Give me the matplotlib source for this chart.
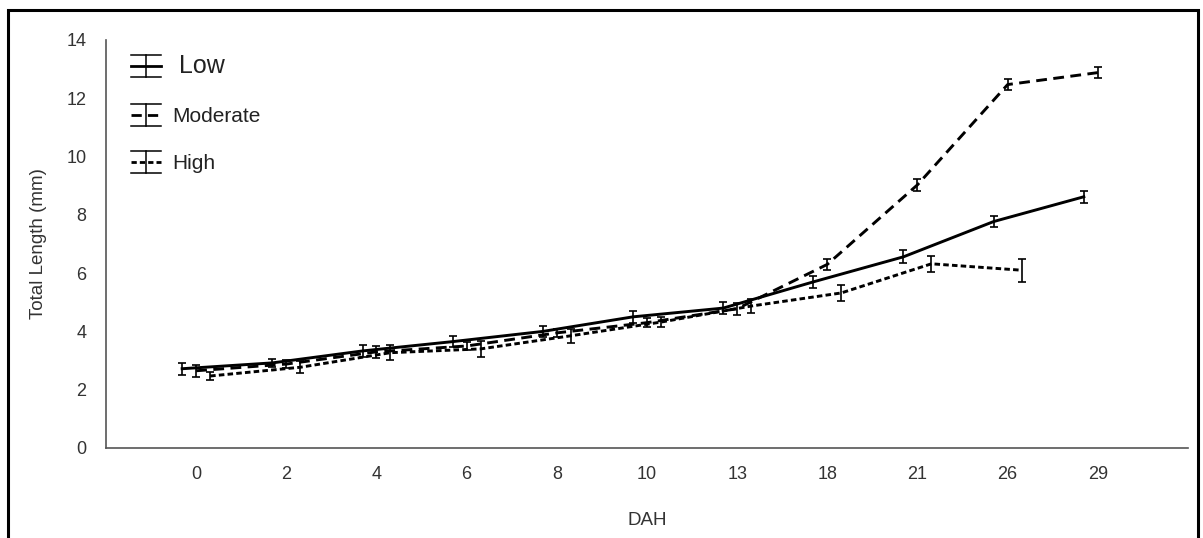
import numpy as np
import matplotlib
matplotlib.use("Agg")
import matplotlib.pyplot as plt
from matplotlib.patches import Rectangle
from matplotlib.lines import Line2D
from matplotlib.legend_handler import HandlerBase

plt.rcParams['font.family'] = ['Liberation Sans', 'DejaVu Sans']

# days after hatching (categorical axis)
dah = ["0", "2", "4", "6", "8", "10", "13", "18", "21", "26", "29"]

low = [2.72, 2.92, 3.33, 3.65, 4.0, 4.5, 4.8, 5.7, 6.56, 7.77, 8.62]
low_err = [0.2, 0.15, 0.2, 0.2, 0.2, 0.2, 0.2, 0.2, 0.22, 0.2, 0.2]

moderate = [2.65, 2.88, 3.3, 3.5, 3.95, 4.3, 4.78, 6.3, 9.03, 12.47, 12.88]
moderate_err = [0.2, 0.15, 0.2, 0.15, 0.15, 0.15, 0.2, 0.2, 0.2, 0.2, 0.2]

high = [2.47, 2.77, 3.27, 3.4, 3.85, 4.32, 4.87, 5.32, 6.32, 6.1, np.nan]
high_err = [0.15, 0.2, 0.25, 0.27, 0.25, 0.18, 0.25, 0.28, 0.28, 0.4, np.nan]


class ExcelErrHandler(HandlerBase):
    # legend key drawn like Excel: caps the full key width, series line in the middle
    def create_artists(self, legend, orig_handle, xdescent, ydescent,
                       width, height, fontsize, trans):
        ls = orig_handle.key_ls
        h = 22 / 1.389
        cy = height / 2 - ydescent
        x0, x1 = -xdescent, -xdescent + width
        xm = (x0 + x1) / 2
        arts = [
            Line2D([x0, x1], [cy + h / 2, cy + h / 2], color="black", lw=1.1),
            Line2D([x0, x1], [cy - h / 2, cy - h / 2], color="black", lw=1.1),
            Line2D([xm, xm], [cy - h / 2, cy + h / 2], color="black", lw=1.1),
            Line2D([x0, x1], [cy, cy], color="black", lw=2.0, ls=ls),
        ]
        for a in arts:
            a.set_transform(trans)
        return arts


fig = plt.figure(figsize=(12.03, 5.38), dpi=100)
ax = fig.add_axes([0.0881, 0.1673, 0.8994, 0.7584])

x = np.arange(len(dah))
dx = 0.155

series = [
    ("Low", low, low_err, -dx, "-"),
    ("Moderate", moderate, moderate_err, 0.0, (0, (3.7, 2.2))),
    ("High", high, high_err, dx, (0, (1.9, 1.1))),
]
keys = []
for name, vals, err, off, ls in series:
    ax.errorbar(x + off, vals, yerr=err, color="black", lw=2.1, ls=ls,
                elinewidth=1.2, capsize=2.6, capthick=1.2)
    k = Line2D([], [], color="black")
    k.key_ls = ls
    keys.append(k)

ax.set_xlim(-1, len(dah))
ax.set_ylim(0, 14)
ax.set_xticks(x)
ax.set_xticklabels(dah)
ax.set_yticks(np.arange(0, 15, 2))
ax.tick_params(length=0, labelsize=13, colors="#333333")
ax.tick_params(axis="x", pad=13)
ax.tick_params(axis="y", pad=14)

for s in ["top", "right"]:
    ax.spines[s].set_visible(False)
for s in ["left", "bottom"]:
    ax.spines[s].set_color("#555555")
    ax.spines[s].set_linewidth(1.2)

ax.set_xlabel("DAH", fontsize=13.5, color="#333333", labelpad=21)
ax.set_ylabel("Total Length (mm)", fontsize=13.5, color="#333333", labelpad=14)

leg = ax.legend(keys, ["Low", "Moderate", "High"],
                handler_map={Line2D: ExcelErrHandler()},
                loc="upper left", bbox_to_anchor=(0.006, 1.012), frameon=False,
                handlelength=1.45, handleheight=1.2, handletextpad=0.5,
                labelspacing=1.25, fontsize=15)
leg.get_texts()[0].set_fontsize(18)
leg.get_texts()[0].set_text(" Low")
for t in leg.get_texts():
    t.set_color("#222222")

# black frame around the picture
fig.patches.append(Rectangle((0.0066, -0.05), 0.989, 1.031, transform=fig.transFigure,
                             fill=False, edgecolor="black", lw=2.2))

fig.savefig("out.png", dpi=100)
